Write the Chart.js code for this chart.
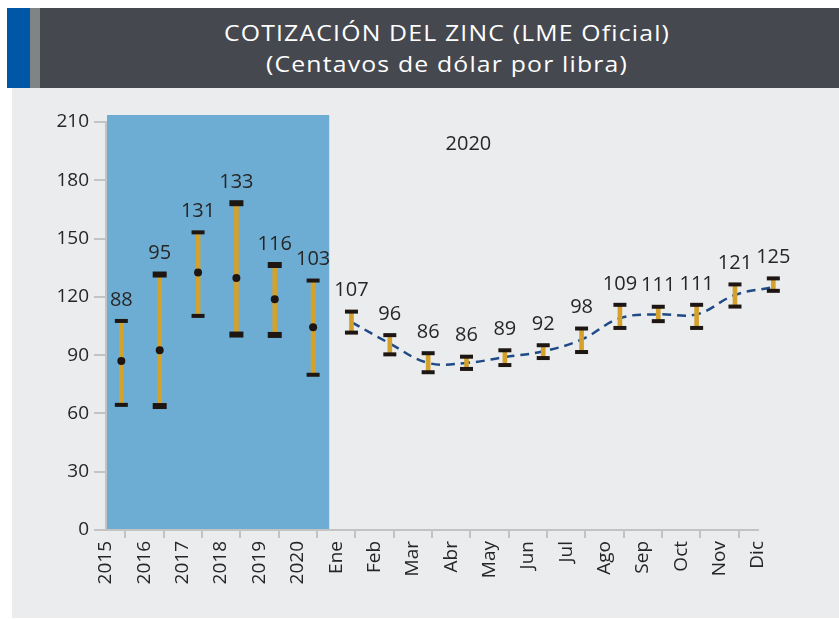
<!DOCTYPE html>
<html>
<head>
<meta charset="utf-8">
<script src="https://cdn.jsdelivr.net/npm/chart.js@4.4.0/dist/chart.umd.min.js"></script>
<style>
  body { margin: 0; background: #fff; width: 839px; height: 620px; position: relative; overflow: hidden; font-family: "Open Sans", sans-serif; }
  #header { position: absolute; left: 7px; top: 8px; width: 832px; height: 80px; background: #46484f; }
  #blueStrip { position: absolute; left: 0; top: 0; width: 23px; height: 80px; background: #0057a7; }
  #grayStrip { position: absolute; left: 23px; top: 0; width: 10px; height: 80px; background: #7f8487; }
  #title { position: absolute; left: 48px; right: 0; top: 10px; text-align: center; color: #fff; font-size: 21px; line-height: 31px; letter-spacing: 1px; transform: scaleX(1.18); transform-origin: 392px 0; }
  #panel { position: absolute; left: 12px; top: 88px; width: 827px; height: 530px; background: #ebecee; }
  canvas { position: absolute; left: 0; top: 0; }
</style>
</head>
<body>
<div id="header">
  <div id="blueStrip"></div>
  <div id="grayStrip"></div>
  <div id="title">COTIZACIÓN DEL ZINC (LME Oficial)<br>(Centavos de dólar por libra)</div>
</div>
<div id="panel"><canvas id="zincChart" width="827" height="530"></canvas></div>
<script>
const xLabels = ['2015', '2016', '2017', '2018', '2019', '2020', 'Ene', 'Feb', 'Mar', 'Abr', 'May', 'Jun', 'Jul', 'Ago', 'Sep', 'Oct', 'Nov', 'Dic'];
const highs = [107.6, 131.5, 153.2, 168.2, 136.4, 128.4, 112.4, 100.3, 91.0, 89.2, 92.5, 95.1, 103.7, 115.9, 114.9, 115.9, 126.4, 129.5];
const lows = [64.4, 63.8, 110.2, 100.6, 100.4, 79.9, 101.6, 90.4, 81.2, 82.9, 84.9, 88.5, 91.6, 104.0, 107.5, 104.0, 115.0, 123.1];
const avgLabels = [88, 95, 131, 133, 116, 103, 107, 96, 86, 86, 89, 92, 98, 109, 111, 111, 121, 125];
const yearMeans = [87.0, 92.5, 132.6, 129.7, 118.8, 104.4];
const yTicks = [0, 30, 60, 90, 120, 150, 180, 210];

const nYears = yearMeans.length;
const lastTick = xLabels.length - 1;
const barShift = 0.4;          // bars sit a bit right of each tick
const heavyCaps = [1, 3, 4];   // 2016, 2018, 2019 have thicker caps

const gold = '#d4a12b';
const capColor = '#1d1612';
const axisGray = '#c3c3c3';

const errBars = highs.map((h, i) => ({ x: i + barShift, y: [lows[i], h] }));
const topCaps = highs.map((h, i) => ({ x: i + barShift, y: h }));
const bottomCaps = lows.map((l, i) => ({ x: i + barShift, y: l }));
const meanDots = yearMeans.map((m, i) => ({ x: i + barShift, y: m }));
const monthLine = avgLabels.slice(nYears).map((v, i) => ({ x: nYears + i + barShift, y: v }));

const capWidth = ctx => heavyCaps.includes(ctx.dataIndex) ? 6 : 4;
const capRadius = ctx => heavyCaps.includes(ctx.dataIndex) ? 7 : 6.5;

// shaded block behind the yearly bars + x baseline that stops at the last tick
const historyBox = {
    id: 'historyBox',
    beforeDatasetsDraw(chart) {
        const { ctx, scales: { x, y } } = chart;
        const left = x.getPixelForValue(0) + 1;
        const right = x.getPixelForValue(nYears - 0.18);
        const top = chart.chartArea.top - 7;
        const bottom = y.getPixelForValue(0) - 1;
        ctx.save();
        ctx.fillStyle = '#6eadd3';
        ctx.fillRect(left, top, right - left, bottom - top);
        ctx.strokeStyle = axisGray;
        ctx.lineWidth = 2;
        ctx.beginPath();
        ctx.moveTo(x.getPixelForValue(0) - 1, y.getPixelForValue(0));
        ctx.lineTo(x.getPixelForValue(lastTick) + 1, y.getPixelForValue(0));
        ctx.stroke();
        ctx.restore();
    }
};

const valueLabels = {
    id: 'valueLabels',
    afterDatasetsDraw(chart) {
        const { ctx, scales: { x, y } } = chart;
        ctx.save();
        ctx.fillStyle = '#262626';
        ctx.font = '20px "Open Sans"';
        ctx.textAlign = 'center';
        ctx.textBaseline = 'middle';
        avgLabels.forEach((v, i) => {
            ctx.fillText(String(v), x.getPixelForValue(i + barShift), y.getPixelForValue(highs[i]) - 21);
        });
        ctx.fillText('2020', x.getPixelForValue(9.45), y.getPixelForValue(198.5));
        ctx.restore();
    }
};

new Chart(document.getElementById('zincChart'), {
    type: 'scatter',
    data: {
        datasets: [
            {
                type: 'line',
                data: monthLine,
                borderColor: '#1f4a86',
                borderWidth: 2.5,
                borderDash: [9, 6],
                tension: 0.4,
                pointRadius: 0,
                fill: false,
                order: 5
            },
            {
                type: 'bar',
                data: errBars,
                backgroundColor: gold,
                barThickness: 4,
                grouped: false,
                order: 4
            },
            {
                data: meanDots,
                pointStyle: 'circle',
                pointRadius: 4,
                backgroundColor: capColor,
                borderWidth: 0,
                order: 3
            },
            {
                data: topCaps,
                pointStyle: 'line',
                pointRadius: capRadius,
                borderWidth: capWidth,
                borderColor: capColor,
                order: 2
            },
            {
                data: bottomCaps,
                pointStyle: 'line',
                pointRadius: capRadius,
                borderWidth: capWidth,
                borderColor: capColor,
                order: 1
            }
        ]
    },
    options: {
        responsive: false,
        animation: false,
        events: [],
        layout: { padding: { top: 34, right: 58, left: 0, bottom: 0 } },
        plugins: { legend: { display: false }, tooltip: { enabled: false } },
        scales: {
            x: {
                type: 'linear',
                min: 0,
                max: lastTick + 0.6,
                offset: false,
                afterFit(scale) { scale.height = 88; },
                afterBuildTicks(scale) { scale.ticks = xLabels.map((_, i) => ({ value: i })); },
                border: { display: false },
                grid: {
                    drawOnChartArea: false,
                    drawTicks: true,
                    tickLength: 8,
                    lineWidth: 2,
                    // hide the extra edge line past the last label
                    color: ctx => (ctx.tick && ctx.tick.value <= lastTick) ? axisGray : 'rgba(0,0,0,0)'
                },
                ticks: {
                    autoSkip: false,
                    minRotation: 90,
                    maxRotation: 90,
                    padding: 3,
                    color: '#262626',
                    font: { family: 'Open Sans', size: 19 },
                    callback: v => xLabels[v]
                }
            },
            y: {
                min: 0,
                max: 210,
                afterFit(scale) { scale.width = 94; },
                afterBuildTicks(scale) { scale.ticks = yTicks.map(v => ({ value: v })); },
                border: { color: axisGray, width: 2 },
                grid: { drawOnChartArea: false, drawTicks: true, tickLength: 12, color: axisGray, lineWidth: 2 },
                ticks: {
                    padding: 5,
                    color: '#262626',
                    font: { family: 'Open Sans', size: 19 }
                }
            }
        }
    },
    plugins: [historyBox, valueLabels]
});
</script>
</body>
</html>
